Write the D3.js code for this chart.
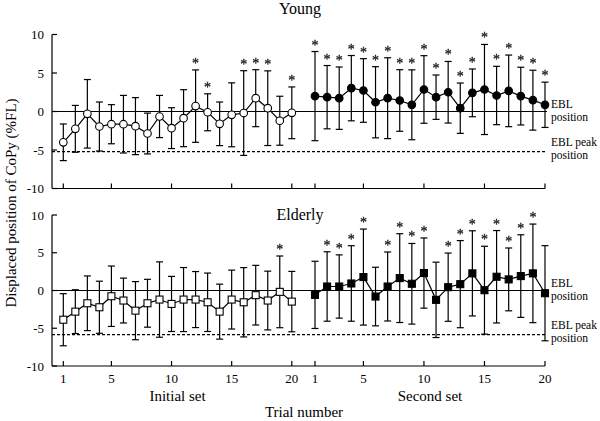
<!DOCTYPE html>
<html>
<head>
<meta charset="utf-8">
<script src="https://cdn.jsdelivr.net/npm/d3@7"></script>
<style>
  body { margin: 0; background: #fff; }
  svg { display: block; font-family: "Liberation Serif", "Times New Roman", serif; }
</style>
</head>
<body>
<div id="chart"></div>
<script>
// trials per set, ticks
const trials = d3.range(1, 21);
const xTickValues = [1, 5, 10, 15, 20];
const yTickValues = [-10, -5, 0, 5, 10];

// Young: means and SDs (%FL)
const youngInitialMean = [-4.0, -2.25, -0.3, -1.95, -1.65, -1.65, -1.9, -2.86, -0.65, -2.16, -0.87, 0.7, -0.1, -1.6, -0.43, -0.2, 1.73, 0.43, -1.2, -0.17];
const youngInitialSd = [2.38, 3.04, 4.45, 3.18, 2.54, 3.74, 3.7, 2.65, 2.74, 2.65, 3.7, 4.7, 2.4, 2.83, 4.15, 5.5, 3.7, 4.85, 3.18, 3.36];
const youngSecondMean = [2.0, 1.86, 1.73, 3.03, 2.73, 1.2, 1.73, 1.43, 0.87, 2.86, 1.86, 2.5, 0.43, 2.42, 2.86, 2.08, 2.68, 2.0, 1.47, 0.87];
const youngSecondSd = [5.79, 4.11, 4.05, 4.24, 4.13, 4.62, 5.25, 4.0, 4.54, 4.39, 2.88, 4.0, 3.27, 3.1, 5.85, 3.79, 4.65, 3.75, 3.89, 2.94];
const youngInitialStars = [12, 13, 16, 17, 18, 20];
const youngSecondStars = d3.range(1, 21);
const youngPeak = -5.2;

// Elderly
const elderlyInitialMean = [-3.87, -2.8, -1.69, -2.22, -0.76, -1.33, -2.67, -1.69, -1.2, -1.78, -1.2, -1.2, -1.56, -2.8, -1.2, -1.56, -0.62, -1.33, -0.18, -1.47];
const elderlyInitialSd = [3.45, 2.9, 3.62, 3.45, 4.0, 2.97, 3.85, 3.17, 4.99, 3.65, 4.24, 3.71, 3.87, 3.64, 3.9, 4.59, 3.95, 3.89, 4.75, 4.0];
const elderlySecondMean = [-0.58, 0.53, 0.53, 0.93, 1.78, -0.8, 0.53, 1.64, 0.89, 2.31, -1.24, 0.44, 0.84, 2.27, 0.04, 1.82, 1.47, 1.91, 2.27, -0.36];
const elderlySecondSd = [4.45, 4.6, 4.19, 5.0, 6.36, 3.88, 4.57, 5.88, 5.34, 4.65, 4.99, 4.52, 5.77, 5.64, 5.82, 6.12, 4.16, 5.47, 6.53, 6.3];
const elderlyInitialStars = [19];
const elderlySecondStars = [2, 3, 4, 5, 7, 8, 9, 10, 12, 13, 14, 15, 16, 17, 18, 19];
const elderlyPeak = -5.85;

const width = 600, height = 421;
const axisLeft = 52, axisRight = 545;

const svg = d3.select('#chart').append('svg')
    .attr('width', width)
    .attr('height', height);

// no-op filter: renders the star glyphs off-screen so they stay grey
svg.append('defs').append('filter')
    .attr('id', 'flat')
    .append('feOffset').attr('dx', 0).attr('dy', 0);

// two x scales, one per set
const xInitial = d3.scaleLinear().domain([1, 20]).range([63.3, 291.8]);
const xSecond = d3.scaleLinear().domain([1, 20]).range([315, 545]);

function drawPanel(opts) {
    const y = d3.scaleLinear().domain([-10, 10]).range([opts.bottom, opts.top]);
    const g = svg.append('g');

    // y axis
    g.append('line')
        .attr('x1', axisLeft).attr('x2', axisLeft)
        .attr('y1', y(10)).attr('y2', y(-10))
        .attr('stroke', '#000').attr('stroke-width', 1.2);
    yTickValues.forEach(v => {
        g.append('line')
            .attr('x1', axisLeft).attr('x2', axisLeft + 5)
            .attr('y1', y(v)).attr('y2', y(v))
            .attr('stroke', '#000').attr('stroke-width', 1.2);
        g.append('text')
            .attr('x', axisLeft - 8).attr('y', y(v) + 4.5)
            .attr('text-anchor', 'end')
            .style('font-size', '13px')
            .text(v);
    });

    // x axis
    g.append('line')
        .attr('x1', axisLeft).attr('x2', axisRight)
        .attr('y1', y(-10)).attr('y2', y(-10))
        .attr('stroke', '#000').attr('stroke-width', 1.2);
    [xInitial, xSecond].forEach(sc => {
        xTickValues.forEach(v => {
            g.append('line')
                .attr('x1', sc(v)).attr('x2', sc(v))
                .attr('y1', y(-10)).attr('y2', y(-10) - 5)
                .attr('stroke', '#000').attr('stroke-width', 1.2);
            if (opts.tickLabels) {
                g.append('text')
                    .attr('x', sc(v)).attr('y', y(-10) + 17)
                    .attr('text-anchor', 'middle')
                    .style('font-size', '13px')
                    .text(v);
            }
        });
    });

    // EBL and EBL peak reference lines
    g.append('line')
        .attr('x1', axisLeft).attr('x2', axisRight + 2)
        .attr('y1', y(0)).attr('y2', y(0))
        .attr('stroke', '#000').attr('stroke-width', 1.2);
    g.append('line')
        .attr('x1', axisLeft).attr('x2', axisRight + 2)
        .attr('y1', y(opts.peak)).attr('y2', y(opts.peak))
        .attr('stroke', '#000').attr('stroke-width', 1.3)
        .attr('stroke-dasharray', '3,2');

    // two-line labels, one text element each
    const labelX = axisRight + 6;
    [[['EBL', 'position'], y(0) - 3.8], [['EBL peak', 'position'], y(opts.peak) - 5.7]].forEach(([lines, ty]) => {
        const t = g.append('text')
            .attr('x', labelX).attr('y', ty)
            .style('font-size', '11.5px');
        lines.forEach((line, i) => {
            t.append('tspan')
                .attr('x', labelX)
                .attr('dy', i === 0 ? 0 : 12.8)
                .text(line);
        });
    });

    // title
    g.append('text')
        .attr('x', 300).attr('y', opts.titleY)
        .attr('text-anchor', 'middle')
        .style('font-size', '16px')
        .text(opts.title);

    // series
    opts.series.forEach(s => {
        const data = trials.map((t, i) => ({ t: t, m: s.mean[i], sd: s.sd[i] }));

        // error bars
        const eb = g.append('g').selectAll('g').data(data).join('g');
        eb.append('line')
            .attr('x1', d => s.x(d.t)).attr('x2', d => s.x(d.t))
            .attr('y1', d => y(d.m + d.sd)).attr('y2', d => y(d.m - d.sd))
            .attr('stroke', '#000').attr('stroke-width', 1.2);
        [1, -1].forEach(sign => {
            eb.append('line')
                .attr('x1', d => s.x(d.t) - 3.5).attr('x2', d => s.x(d.t) + 3.5)
                .attr('y1', d => y(d.m + sign * d.sd)).attr('y2', d => y(d.m + sign * d.sd))
                .attr('stroke', '#000').attr('stroke-width', 1.2);
        });

        // connecting line
        g.append('path')
            .datum(data)
            .attr('fill', 'none')
            .attr('stroke', '#000')
            .attr('stroke-width', 1.2)
            .attr('d', d3.line().x(d => s.x(d.t)).y(d => y(d.m)));

        // markers
        const fill = s.filled ? '#000' : '#fff';
        if (opts.shape === 'circle') {
            g.append('g').selectAll('circle').data(data).join('circle')
                .attr('cx', d => s.x(d.t)).attr('cy', d => y(d.m))
                .attr('r', 3.8)
                .attr('fill', fill).attr('stroke', '#000').attr('stroke-width', 1.1);
        } else {
            g.append('g').selectAll('rect').data(data).join('rect')
                .attr('x', d => s.x(d.t) - 3.5).attr('y', d => y(d.m) - 3.5)
                .attr('width', 7).attr('height', 7)
                .attr('fill', fill).attr('stroke', '#000').attr('stroke-width', 1.1);
        }

        // significance stars
        g.append('g')
            .attr('filter', 'url(#flat)')
            .selectAll('text').data(data.filter(d => s.stars.includes(d.t))).join('text')
            .attr('x', d => s.x(d.t)).attr('y', d => y(d.m + d.sd) - 2)
            .attr('text-anchor', 'middle')
            .attr('fill', '#222')
            .attr('stroke', '#222')
            .attr('stroke-width', 0.3)
            .style('font-size', '14px')
            .text('*');
    });
}

drawPanel({
    title: 'Young', titleY: 14,
    top: 34.5, bottom: 188.5, peak: youngPeak,
    shape: 'circle', tickLabels: false,
    series: [
        { x: xInitial, mean: youngInitialMean, sd: youngInitialSd, stars: youngInitialStars, filled: false },
        { x: xSecond, mean: youngSecondMean, sd: youngSecondSd, stars: youngSecondStars, filled: true }
    ]
});

drawPanel({
    title: 'Elderly', titleY: 220,
    top: 215, bottom: 366, peak: elderlyPeak,
    shape: 'square', tickLabels: true,
    series: [
        { x: xInitial, mean: elderlyInitialMean, sd: elderlyInitialSd, stars: elderlyInitialStars, filled: false },
        { x: xSecond, mean: elderlySecondMean, sd: elderlySecondSd, stars: elderlySecondStars, filled: true }
    ]
});

// set labels and axis titles
svg.append('text')
    .attr('x', xInitial(10.5)).attr('y', 401)
    .attr('text-anchor', 'middle')
    .style('font-size', '15px')
    .text('Initial set');
svg.append('text')
    .attr('x', xSecond(10.5)).attr('y', 401)
    .attr('text-anchor', 'middle')
    .style('font-size', '15px')
    .text('Second set');
svg.append('text')
    .attr('x', 304).attr('y', 417)
    .attr('text-anchor', 'middle')
    .style('font-size', '15px')
    .text('Trial number');
svg.append('text')
    .attr('transform', 'translate(16,203) rotate(-90)')
    .attr('text-anchor', 'middle')
    .style('font-size', '15px')
    .text('Displaced position of CoPy (%FL)');
</script>
</body>
</html>
